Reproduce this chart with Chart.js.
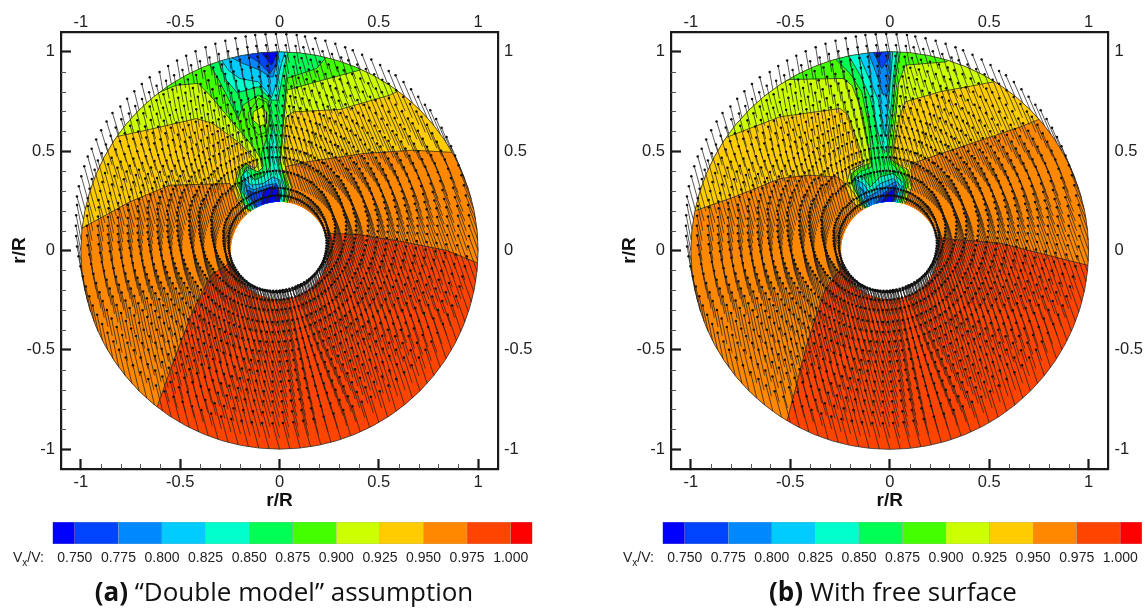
<!DOCTYPE html>
<html>
<head>
<meta charset="utf-8">
<script src="https://cdn.jsdelivr.net/npm/chart.js@4"></script>
<style>
  html, body { margin: 0; padding: 0; background: #fff; width: 1145px; height: 609px; overflow: hidden; }
  canvas { position: absolute; display: block; }
  .cbname { position: absolute; top: 548px; font: 14px "Liberation Sans", sans-serif; color: #222; line-height: 18px; }
  .cbname sub { font-size: 10px; line-height: 0; }
  .caption { position: absolute; top: 574px; width: 560px; text-align: center; font: 26px "Open Sans", sans-serif; color: #111; line-height: 34px; white-space: nowrap; }
</style>
</head>
<body>
<canvas id="plotA" width="560" height="515" style="left:0;top:0"></canvas>
<canvas id="plotB" width="535" height="515" style="left:610px;top:0"></canvas>
<canvas id="barA" width="570" height="60" style="left:0;top:515px"></canvas>
<canvas id="barB" width="535" height="60" style="left:610px;top:515px"></canvas>
<div class="cbname" style="left:13px">V<sub>x</sub>/V:</div>
<div class="cbname" style="left:623px">V<sub>x</sub>/V:</div>
<div class="caption" style="left:4px"><b>(a)</b> “Double model” assumption</div>
<div class="caption" style="left:613px"><b>(b)</b> With free surface</div>
<script>
// axis ticks
const majorTicks = [-1, -0.5, 0, 0.5, 1];
const minorTicks = [-0.9, -0.8, -0.7, -0.6, -0.4, -0.3, -0.2, -0.1, 0.1, 0.2, 0.3, 0.4, 0.6, 0.7, 0.8, 0.9];
const hubRadius = 0.245;

// colour bar
const levelTicks = [0.75, 0.775, 0.8, 0.825, 0.85, 0.875, 0.9, 0.925, 0.95, 0.975, 1.0];
const levelEdges = [0.7372, 0.75, 0.775, 0.8, 0.825, 0.85, 0.875, 0.9, 0.925, 0.95, 0.975, 1.0, 1.0125];
const levelColors = ['#0000ff', '#0044ff', '#0088ff', '#00ccff', '#00ffcc', '#00ff55', '#44ff00', '#ccff00', '#ffcc00', '#ff8800', '#ff4400', '#ff0000'];

// velocity vectors: measuring grid, and vector read per 15 degree sector
const ringRadii = [0.25, 0.27, 0.32, 0.38, 0.43, 0.49, 0.54, 0.59, 0.64, 0.69, 0.74, 0.79, 0.84, 0.89, 0.945, 1.0];
const ringLength = [0.3, 0.5, 0.9, 1, 1, 1, 1, 1, 1, 1, 1, 1, 1, 1, 1, 1];
const spokeAngles = [0, 3, 6, 9, 12, 15, 18, 21, 24, 27, 30, 33, 36, 39, 42, 45, 48, 51, 54, 57, 60, 63, 66, 69, 72, 75, 78, 81, 84, 87,
  90, 93, 96, 99, 102, 105, 108, 111, 114, 117, 120, 123, 126, 129, 132, 135, 138, 141, 144, 147, 150, 153, 156, 159, 162, 165, 168, 171, 174, 177,
  180, 183, 186, 189, 192, 195, 198, 201, 204, 207, 210, 213, 216, 219, 222, 225, 228, 231, 234, 237, 240, 243, 246, 249, 252, 255, 258, 261, 264, 267,
  270, 273, 276, 279, 282, 285, 288, 291, 294, 297, 300, 303, 306, 309, 312, 315, 318, 321, 324, 327, 330, 333, 336, 339, 342, 345, 348, 351, 354, 357];
const sectorDx = [-0.045, -0.05, -0.05, -0.045, -0.038, -0.028, -0.018, -0.014, -0.016, -0.024, -0.032, -0.032, -0.025, -0.024, -0.027, -0.031, -0.034, -0.035, -0.035, -0.037, -0.04, -0.042, -0.044, -0.045];
const sectorDy = [0.125, 0.12, 0.118, 0.105, 0.095, 0.09, 0.09, 0.09, 0.09, 0.095, 0.105, 0.115, 0.125, 0.128, 0.13, 0.13, 0.13, 0.13, 0.13, 0.13, 0.13, 0.13, 0.13, 0.128];

// contours of plot (a), each one closes around the lower-velocity side
const a975 = [[-0.8,-1.0],[-0.615,-0.784],[-0.526,-0.536],[-0.434,-0.3],[-0.345,-0.126],[-0.254,-0.065],[0,0],[0.244,0.087],[0.4,0.08],[0.506,0.062],[0.59,0.05],[0.842,0],[1.0,-0.064],[1.2,-0.13],[1.2,1.2],[-1.2,1.2],[-1.2,-1.0],[-0.8,-1.0]];
const a950 = [[-1.2,0.02],[-0.998,0.11],[-0.753,0.245],[-0.552,0.329],[-0.25,0.337],[-0.22,0.27],[-0.174,0.186],[0,0.1],[0.035,0.186],[0.064,0.287],[0.052,0.354],[0.027,0.421],[0.136,0.446],[0.421,0.488],[0.672,0.505],[0.872,0.494],[1.2,0.47],[1.2,1.2],[-1.2,1.2],[-1.2,0.02]];
const a925 = [[-1.0,0.53],[-0.812,0.575],[-0.669,0.606],[-0.418,0.664],[-0.334,0.639],[-0.2,0.539],[-0.133,0.471],[-0.107,0.438],[-0.124,0.413],[-0.174,0.438],[-0.208,0.404],[-0.225,0.337],[-0.191,0.253],[-0.174,0.22],[0,0.1],[0.035,0.22],[0.06,0.32],[0.035,0.388],[0.027,0.438],[0.027,0.589],[0.035,0.673],[0.069,0.698],[0.304,0.71],[0.555,0.782],[0.589,0.799],[0.8,1.0],[0.8,1.2],[-1.2,1.2],[-1.0,0.53]];
const a900 = [[-0.8,0.75],[-0.611,0.794],[-0.518,0.832],[-0.409,0.841],[-0.351,0.782],[-0.216,0.622],[-0.133,0.522],[-0.091,0.455],[-0.074,0.404],[-0.107,0.379],[-0.166,0.438],[-0.2,0.404],[-0.216,0.337],[-0.183,0.27],[-0.166,0.211],[0,0.1],[0.035,0.211],[0.049,0.304],[0.027,0.371],[0.002,0.421],[0.018,0.622],[0.035,0.807],[0.186,0.849],[0.404,0.908],[0.6,1.0],[0.6,1.2],[-0.8,1.2],[-0.8,0.75]];
const a875 = [[-0.45,1.1],[-0.351,0.933],[-0.309,0.866],[-0.208,0.664],[-0.183,0.732],[-0.107,0.782],[-0.057,0.757],[-0.049,0.673],[-0.057,0.589],[-0.091,0.488],[-0.082,0.421],[-0.107,0.396],[-0.166,0.421],[-0.191,0.371],[-0.2,0.304],[-0.174,0.22],[0,0.1],[0.018,0.211],[0.035,0.32],[0.01,0.421],[0.002,0.455],[0.027,0.757],[0.035,0.866],[0.186,0.916],[0.237,0.975],[0.3,1.1],[0.3,1.2],[-0.45,1.2],[-0.45,1.1]];
const aIslandLime = [[-0.158,0.69],[-0.107,0.765],[-0.065,0.748],[-0.049,0.69],[-0.062,0.597],[-0.107,0.581],[-0.149,0.639],[-0.158,0.69]];
const aIslandYellow = [[-0.133,0.698],[-0.091,0.72],[-0.065,0.698],[-0.065,0.639],[-0.099,0.626],[-0.133,0.656],[-0.133,0.698]];
const a850Top = [[-0.32,1.05],[-0.309,0.958],[-0.275,0.866],[-0.213,0.794],[-0.107,0.824],[-0.04,0.757],[-0.007,0.757],[0.027,0.941],[0.044,0.995],[0.05,1.05],[-0.32,1.05]];
const a825Top = [[-0.3,1.05],[-0.292,0.958],[-0.258,0.908],[-0.2,0.866],[-0.107,0.849],[-0.04,0.77],[-0.015,0.841],[0.01,0.941],[0.027,0.997],[0.03,1.05],[-0.3,1.05]];
const a800Top = [[-0.26,1.05],[-0.25,0.975],[-0.183,0.941],[-0.099,0.908],[-0.049,0.874],[-0.032,0.874],[-0.007,0.975],[-0.007,1.05],[-0.26,1.05]];
const a775Top = [[-0.18,1.05],[-0.174,0.992],[-0.107,0.95],[-0.049,0.891],[-0.015,0.941],[-0.007,1.05],[-0.18,1.05]];
const a750Top = [[-0.09,1.05],[-0.091,0.997],[-0.04,0.933],[-0.01,0.992],[-0.01,1.05],[-0.09,1.05]];
const a850Low = [[-0.032,0.639],[-0.052,0.539],[-0.049,0.421],[-0.074,0.379],[-0.124,0.354],[-0.166,0.404],[-0.191,0.371],[-0.191,0.304],[-0.158,0.237],[0,0.1],[0.018,0.237],[0.027,0.32],[0.01,0.371],[-0.007,0.438],[-0.015,0.539],[-0.032,0.639]];
const a825Low = [[-0.183,0.371],[-0.141,0.329],[-0.082,0.337],[-0.032,0.371],[0.002,0.354],[0.01,0.287],[-0.007,0.22],[-0.133,0.203],[-0.174,0.295],[-0.183,0.371]];
const a800Low = [[-0.174,0.337],[-0.133,0.304],[-0.065,0.329],[-0.015,0.337],[0.005,0.287],[-0.007,0.22],[-0.116,0.203],[-0.158,0.279],[-0.174,0.337]];
const a775Low = [[-0.166,0.304],[-0.116,0.287],[-0.065,0.312],[-0.015,0.329],[0.002,0.27],[-0.007,0.22],[-0.107,0.203],[-0.166,0.304]];
const a750Low = [[-0.082,0.295],[-0.049,0.32],[-0.007,0.304],[0.002,0.237],[-0.091,0.203],[-0.082,0.295]];

// contours of plot (b)
const b975 = [[-0.65,-1.1],[-0.517,-0.86],[-0.411,-0.452],[-0.326,-0.2],[-0.225,-0.059],[0,0],[0.253,0.062],[0.555,0.037],[0.993,-0.074],[1.2,-0.12],[1.2,1.2],[-1.2,1.2],[-1.2,-1.1],[-0.65,-1.1]];
const b950 = [[-1.2,0.1],[-0.98,0.2],[-0.78,0.27],[-0.552,0.362],[-0.409,0.379],[-0.267,0.371],[-0.242,0.354],[-0.216,0.304],[-0.191,0.245],[0,0.1],[0.077,0.245],[0.111,0.32],[0.111,0.438],[0.656,0.622],[0.75,0.66],[0.9,0.75],[0.9,1.2],[-1.2,1.2],[-1.2,0.1]];
const b925 = [[-1.1,0.47],[-0.82,0.57],[-0.552,0.673],[-0.25,0.715],[-0.208,0.681],[-0.141,0.488],[-0.133,0.438],[-0.2,0.404],[-0.216,0.337],[-0.174,0.279],[-0.149,0.237],[0,0.1],[0.077,0.237],[0.111,0.32],[0.094,0.404],[0.027,0.446],[0.018,0.497],[0.044,0.656],[0.077,0.748],[0.253,0.799],[0.522,0.849],[0.7,1.0],[0.7,1.2],[-1.1,1.2],[-1.1,0.47]];
const b900 = [[-0.7,0.8],[-0.552,0.846],[-0.502,0.861],[-0.233,0.866],[-0.191,0.832],[-0.141,0.706],[-0.107,0.522],[-0.099,0.438],[-0.149,0.421],[-0.191,0.388],[-0.191,0.337],[-0.158,0.27],[-0.141,0.228],[0,0.1],[0.06,0.228],[0.094,0.337],[0.077,0.404],[0.01,0.455],[0.01,0.488],[0.035,0.723],[0.044,0.841],[0.077,0.933],[0.287,0.95],[0.4,1.1],[0.4,1.2],[-0.7,1.2],[-0.7,0.8]];
const b875 = [[-0.3,1.1],[-0.275,0.966],[-0.2,0.891],[-0.141,0.799],[-0.107,0.639],[-0.091,0.471],[-0.091,0.421],[-0.149,0.396],[-0.183,0.362],[-0.174,0.304],[-0.133,0.228],[0,0.1],[0.052,0.228],[0.082,0.337],[0.06,0.388],[0.01,0.438],[-0.007,0.488],[0.018,0.74],[0.027,0.874],[0.052,0.992],[0.06,1.1],[-0.3,1.1]];
const b850Top = [[-0.22,1.05],[-0.208,0.983],[-0.149,0.883],[-0.099,0.773],[-0.065,0.622],[-0.04,0.513],[-0.015,0.497],[0.01,0.757],[0.018,0.874],[0.035,1.0],[0.04,1.05],[-0.22,1.05]];
const b825Top = [[-0.16,1.05],[-0.158,0.992],[-0.107,0.874],[-0.057,0.757],[-0.023,0.572],[0.002,0.841],[0.015,1.0],[0.015,1.05],[-0.16,1.05]];
const b800Top = [[-0.11,1.05],[-0.107,0.997],[-0.065,0.883],[-0.032,0.782],[-0.007,0.799],[0.005,0.908],[0.002,1.0],[0.002,1.05],[-0.11,1.05]];
const b775Top = [[-0.085,1.05],[-0.082,0.997],[-0.04,0.916],[-0.007,0.966],[-0.003,1.0],[-0.003,1.05],[-0.085,1.05]];
const b750Top = [[-0.075,1.05],[-0.074,0.997],[-0.054,0.971],[-0.04,0.997],[-0.04,1.05],[-0.075,1.05]];
const b850Low = [[-0.174,0.371],[-0.133,0.371],[-0.099,0.32],[-0.049,0.371],[0.018,0.388],[0.072,0.337],[0.06,0.27],[0.035,0.22],[-0.124,0.22],[-0.166,0.304],[-0.174,0.371]];
const b825Low = [[-0.166,0.354],[-0.133,0.337],[-0.099,0.287],[-0.049,0.337],[0.018,0.362],[0.06,0.32],[0.049,0.27],[0.027,0.22],[-0.112,0.22],[-0.153,0.287],[-0.166,0.354]];
const b800Low = [[-0.149,0.32],[-0.107,0.27],[-0.049,0.304],[0.027,0.346],[0.044,0.304],[0.018,0.22],[-0.099,0.22],[-0.149,0.32]];
const b775Low = [[-0.082,0.22],[-0.032,0.287],[0.027,0.329],[0.035,0.295],[0.01,0.22],[-0.082,0.22]];
const b750Low = [[-0.057,0.22],[-0.015,0.287],[0.027,0.312],[0.01,0.22],[-0.057,0.22]];

const wholeDisc = [[-1.2,-1.2],[1.2,-1.2],[1.2,1.2],[-1.2,1.2],[-1.2,-1.2]];

// cNNN is the colour of the band just below level NNN
const [c750, c775, c800, c825, c850, c875, c900, c925, c950, c975, c1000] = levelColors;
const layersA = [[wholeDisc, c1000], [a975, c975], [a950, c950], [a925, c925], [a900, c900], [a875, c875], [aIslandLime, c900], [aIslandYellow, c925],
  [a850Top, c850], [a825Top, c825], [a800Top, c800], [a775Top, c775], [a750Top, c750],
  [a850Low, c850], [a825Low, c825], [a800Low, c800], [a775Low, c775], [a750Low, c750]];
const layersB = [[wholeDisc, c1000], [b975, c975], [b950, c950], [b925, c925], [b900, c900], [b875, c875],
  [b850Top, c850], [b825Top, c825], [b800Top, c800], [b775Top, c775], [b750Top, c750],
  [b850Low, c850], [b825Low, c825], [b800Low, c800], [b775Low, c775], [b750Low, c750]];

// clips the contour fills to the ring between hub and disc edge
// has to be registered before Filler so the fill happens inside the clip
const discClip = {
  id: 'discClip',
  beforeDatasetDraw(chart, args) {
    if (!args.meta.controller.getDataset().clipDisc) return;
    const { x, y } = chart.scales;
    const cx = x.getPixelForValue(0), cy = y.getPixelForValue(0);
    const hub = x.getPixelForValue(hubRadius) - cx;
    const ctx = chart.ctx;
    ctx.save();
    ctx.beginPath();
    ctx.arc(cx, cy, x.getPixelForValue(1) - cx, 0, Math.PI * 2);
    ctx.moveTo(cx + hub, cy);
    ctx.arc(cx, cy, hub, 0, Math.PI * 2);
    ctx.clip('evenodd');
  },
  afterDatasetDraw(chart, args) {
    const ds = args.meta.controller.getDataset();
    if (!ds.clipDisc) return;
    chart.ctx.restore();
    if (ds.lastLayer) {
      const { x, y } = chart.scales;
      const cx = x.getPixelForValue(0), cy = y.getPixelForValue(0);
      const ctx = chart.ctx;
      ctx.save();
      ctx.strokeStyle = '#333';
      ctx.lineWidth = 0.8;
      ctx.beginPath();
      ctx.arc(cx, cy, x.getPixelForValue(1) - cx, 0, Math.PI * 2);
      ctx.stroke();
      ctx.restore();
    }
  }
};
Chart.unregister(Chart.Filler);
Chart.register(discClip, Chart.Filler);

// minor ticks, chart.js only does one tick length per scale
const minorTickMarks = {
  id: 'minorTickMarks',
  afterDraw(chart) {
    const { x, y } = chart.scales;
    const ctx = chart.ctx;
    ctx.save();
    ctx.strokeStyle = '#555';
    ctx.lineWidth = 1;
    ctx.beginPath();
    minorTicks.forEach(v => {
      const px = Math.round(x.getPixelForValue(v)) + 0.5;
      ctx.moveTo(px, y.bottom);
      ctx.lineTo(px, y.bottom - 5);
      const py = Math.round(y.getPixelForValue(v)) + 0.5;
      ctx.moveTo(x.left, py);
      ctx.lineTo(x.left + 5, py);
    });
    ctx.stroke();
    ctx.restore();
  }
};

function buildArrows() {
  const shafts = [], heads = [];
  ringRadii.forEach((r, i) => {
    spokeAngles.forEach(deg => {
      const sector = Math.round(deg / 15) % 24;
      const bx = r * Math.cos(deg * Math.PI / 180);
      const by = r * Math.sin(deg * Math.PI / 180);
      const tip = { x: bx + sectorDx[sector] * ringLength[i], y: by + sectorDy[sector] * ringLength[i] };
      shafts.push({ x: bx, y: by }, tip, { x: null, y: null });
      heads.push(tip);
    });
  });
  return { shafts, heads };
}

function plotDatasets(layers) {
  const { shafts, heads } = buildArrows();
  const sets = layers.map(([pts, color], i) => ({
    data: pts.map(([x, y]) => ({ x, y })),
    showLine: true,
    fill: 'shape',
    tension: 0,
    backgroundColor: color,
    borderColor: i === 0 ? 'transparent' : '#1a1a1a',
    borderWidth: 0.7,
    pointRadius: 0,
    clipDisc: true,
    lastLayer: i === layers.length - 1,
    order: layers.length - i + 2
  }));
  sets.push({ data: shafts, showLine: true, spanGaps: false, borderColor: '#222', borderWidth: 0.75, pointRadius: 0, order: 1 });
  sets.push({ data: heads, showLine: false, pointRadius: 1.25, pointBorderWidth: 0, pointBackgroundColor: '#111', order: 0 });
  return sets;
}

const tickFont = { family: '"Liberation Sans", sans-serif', size: 16.5 };
const titleFont = { family: '"Liberation Sans", sans-serif', size: 19, weight: 'bold' };
const setMajor = scale => { scale.ticks = majorTicks.map(value => ({ value })); };
const tickText = v => String(v);
const frame = { display: true, color: '#1a1a1a', width: 2.2 };

function axis(position, size, extra) {
  const horizontal = position === 'top' || position === 'bottom';
  const outerOnly = position === 'top' || position === 'right';
  return Object.assign({
    type: 'linear',
    position,
    min: -1.1,
    max: 1.1,
    afterBuildTicks: setMajor,
    afterFit(scale) { if (horizontal) scale.height = size; else scale.width = size; },
    border: frame,
    grid: outerOnly
      ? { display: false, drawOnChartArea: false, drawTicks: false }
      : { display: true, drawOnChartArea: false, drawTicks: true, tickLength: -10, tickWidth: 2.2, tickColor: '#1a1a1a' },
    ticks: { color: '#222', font: tickFont, autoSkip: false, maxRotation: 0, callback: tickText,
      padding: position === 'bottom' ? 14 : position === 'left' ? 16 : position === 'right' ? 6 : 0 }
  }, extra);
}

function makePlot(id, layers, right) {
  return new Chart(document.getElementById(id), {
    type: 'scatter',
    data: { datasets: plotDatasets(layers) },
    options: {
      responsive: false,
      animation: false,
      events: [],
      layout: { padding: 0 },
      plugins: { legend: { display: false }, tooltip: { enabled: false } },
      scales: {
        x: axis('bottom', 46, { title: { display: true, text: 'r/R', color: '#111', font: titleFont, padding: { top: 0, bottom: 3 } } }),
        x2: axis('top', 32),
        y: axis('left', 61, { title: { display: true, text: 'r/R', color: '#111', font: titleFont, padding: { top: 8, bottom: 0 } } }),
        y2: axis('right', right)
      }
    },
    plugins: [minorTickMarks]
  });
}

function makeBar(id, padRight) {
  return new Chart(document.getElementById(id), {
    type: 'bar',
    data: {
      labels: ['Vx/V'],
      datasets: levelColors.map((color, i) => ({
        data: [[levelEdges[i], levelEdges[i + 1]]],
        backgroundColor: color,
        borderColor: 'rgba(90,90,90,0.5)',
        borderWidth: 0.6,
        grouped: false,
        barPercentage: 1,
        categoryPercentage: 1
      }))
    },
    options: {
      indexAxis: 'y',
      responsive: false,
      animation: false,
      events: [],
      layout: { padding: { left: 52.5, right: padRight, top: 7, bottom: 0 } },
      plugins: { legend: { display: false }, tooltip: { enabled: false } },
      scales: {
        x: {
          type: 'linear',
          min: levelEdges[0],
          max: levelEdges[levelEdges.length - 1],
          afterBuildTicks: scale => { scale.ticks = levelTicks.map(value => ({ value })); },
          afterFit: scale => { scale.height = 31; },
          border: { display: false },
          grid: { display: false, drawTicks: false },
          ticks: { color: '#222', font: { family: '"Liberation Sans", sans-serif', size: 14 }, padding: 6, autoSkip: false, maxRotation: 0, callback: v => v.toFixed(3) }
        },
        y: { display: false }
      }
    }
  });
}

makePlot('plotA', layersA, 62);
makePlot('plotB', layersB, 36.5);
makeBar('barA', 37.5);
makeBar('barB', 3);
</script>
</body>
</html>
